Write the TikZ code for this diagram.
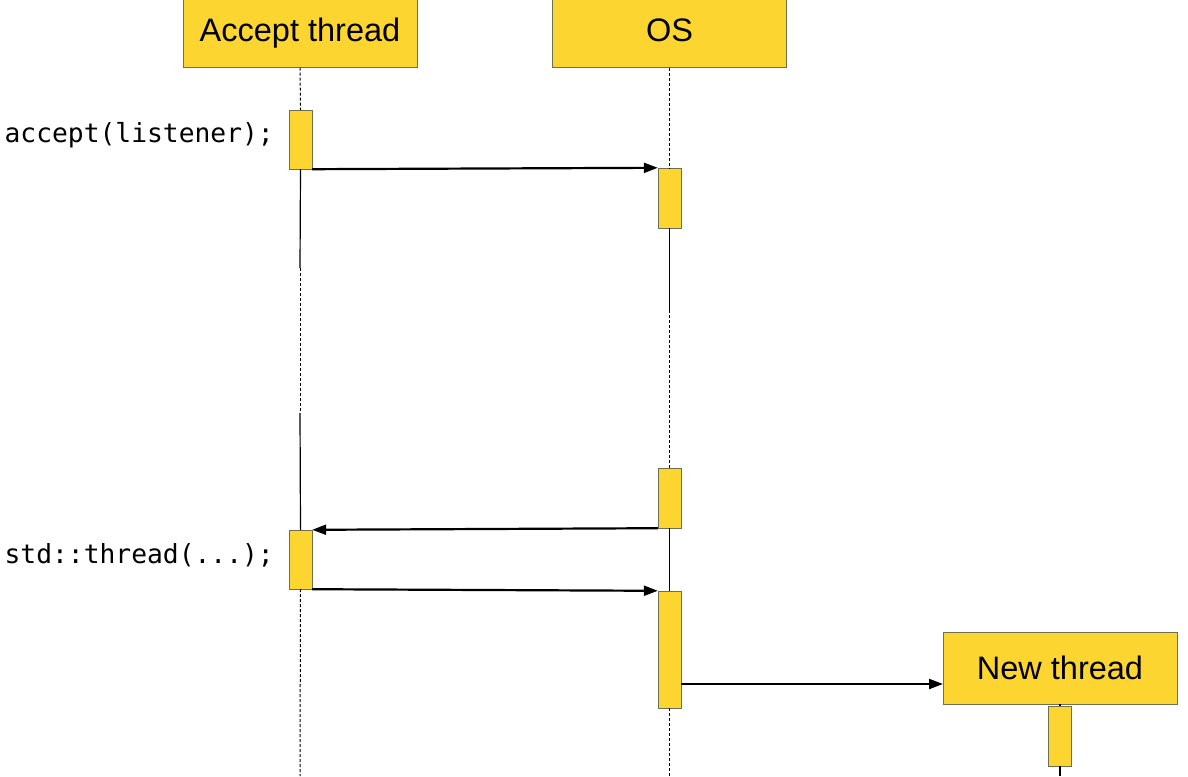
\documentclass[tikz,border=0pt]{standalone}
\usepackage{fontspec}
\setmainfont{Liberation Sans}
\setmonofont{DejaVu Sans Mono}
\usetikzlibrary{arrows.meta}
\definecolor{boxyellow}{HTML}{FDD530}
\definecolor{boxedge}{HTML}{6E6E50}

\begin{document}
\begin{tikzpicture}[x=1pt,y=-1pt]
    \tikzstyle{actor}=[draw=boxedge, fill=boxyellow, minimum width=234pt, minimum height=68pt, inner sep=0pt, text height=23pt, text depth=7pt, font=\fontsize{32.5}{36}\selectfont]
    \tikzstyle{act}=[draw=boxedge, fill=boxyellow, minimum width=23pt, inner sep=0pt]
    \tikzstyle{msg}=[draw=black, line width=2.2pt, -{Triangle[length=14pt,width=10pt]}]
    \tikzstyle{life}=[draw=black, line width=1.2pt]
    \tikzstyle{idle}=[draw=black, line width=1pt, dash pattern=on 3pt off 2pt]
    \tikzstyle{code}=[font=\ttfamily\fontsize{26.3}{30}\selectfont, anchor=east, inner sep=0pt]

    \useasboundingbox (0,0) rectangle (1188,776);

    % lifeline heads
    \node[actor] (acc) at (300,33.5) {Accept thread};
    \node[actor] (os) at (669.5,33.5) {OS};
    \node[actor, minimum height=72pt, text depth=1pt] (new) at (1060,668) {New thread};

    % activations
    \node[act, minimum height=59pt] (a1) at (300.5,139.5) {};
    \node[act, minimum height=59pt] (a2) at (300.5,559.5) {};
    \node[act, minimum height=60pt] (o1) at (669.5,198) {};
    \node[act, minimum height=60pt] (o2) at (669.5,498) {};
    \node[act, minimum height=117pt] (o3) at (669.5,649.5) {};
    \node[act, minimum height=60pt] (n1) at (1060,736) {};

    % lifelines
    \coordinate (acc-1) at (300,268);
    \coordinate (acc-2) at (300,413);
    \coordinate (acc-end) at (300,776);
    \coordinate (os-1) at (669.5,310);
    \coordinate (os-end) at (669.5,776);
    \coordinate (new-end) at (1060,776);
    \draw[idle] (acc.south) -- (a1.north);
    \draw[life] (a1.south) -- (acc-1);
    \draw[idle] (acc-1) -- (acc-2);
    \draw[life] (acc-2) -- (a2.north);
    \draw[idle] (a2.south) -- (acc-end);
    \draw[idle] (os.south) -- (o1.north);
    \draw[life] (o1.south) -- (os-1);
    \draw[idle] (os-1) -- (o2.north);
    \draw[life] (o2.south) -- (o3.north);
    \draw[idle] (o3.south) -- (os-end);
    \draw[life] (new.south) -- (n1.north);
    \draw[life] (n1.south) -- (new-end);

    % calls
    \node[code] (c1) at (274,135) {accept(listener);};
    \node[code] (c2) at (274,555) {std::thread(...);};

    % messages
    \coordinate (new-in) at (943,684);
    \draw[msg] (a1.south east) -- (o1.north west);
    \draw[msg] (o2.south west) -- (a2.north east);
    \draw[msg] (a2.south east) -- (o3.north west);
    \draw[msg] (o3.east |- new-in) -- (new-in);
\end{tikzpicture}
\end{document}
